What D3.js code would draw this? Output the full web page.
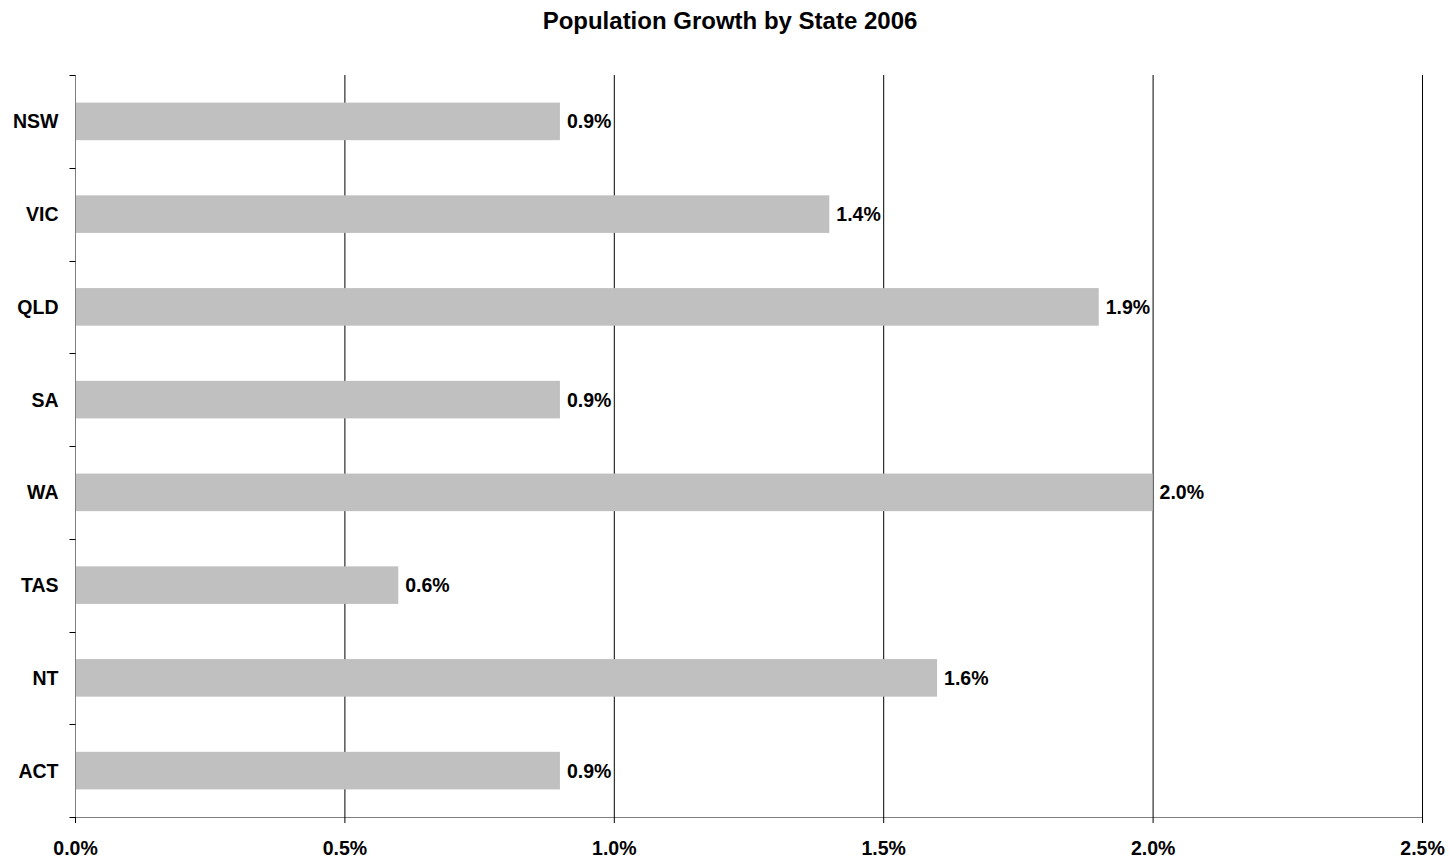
<!DOCTYPE html>
<html>
<head>
<meta charset="utf-8">
<script src="https://cdn.jsdelivr.net/npm/d3@7"></script>
<style>
    body { margin: 0; background: #fff; }
    svg text { font-family: "Liberation Sans", Arial, sans-serif; font-weight: bold; fill: #000; }
</style>
</head>
<body>
<div id="chart"></div>
<script>
// chart data
let states = ["NSW", "VIC", "QLD", "SA", "WA", "TAS", "NT", "ACT"];
let growth = [0.009, 0.014, 0.019, 0.009, 0.020, 0.006, 0.016, 0.009];
let xTicks = [0, 0.005, 0.010, 0.015, 0.020, 0.025];

let W = 1450, H = 862;
let margin = {top: 75, right: 28, bottom: 45, left: 75};
let width = W - margin.left - margin.right;
let height = H - margin.top - margin.bottom;
let labelSize = "19.5px";

let svg = d3.select("#chart").append("svg")
    .attr("width", W)
    .attr("height", H);

let g = svg.append("g")
    .attr("transform", `translate(${margin.left},${margin.top})`);

let x = d3.scaleLinear().domain([0, 0.025]).range([0, width]);
let y = d3.scaleBand().domain(states).range([0, height]).paddingInner(0.595).paddingOuter(0.2975);
let yBand = d3.scaleBand().domain(states).range([0, height]);

let fmt = d3.format(".1%");

// vertical gridlines
g.selectAll(".grid")
    .data(xTicks.slice(1))
    .enter()
    .append("line")
    .attr("x1", d => x(d) + 0.5)
    .attr("x2", d => x(d) + 0.5)
    .attr("y1", 0)
    .attr("y2", height)
    .attr("stroke", "#000")
    .attr("stroke-width", 1);

// bars
g.selectAll(".bar")
    .data(states)
    .enter()
    .append("rect")
    .attr("x", 0)
    .attr("y", d => y(d))
    .attr("width", (d, i) => x(growth[i]))
    .attr("height", y.bandwidth())
    .attr("fill", "#c0c0c0");

// value labels
g.selectAll(".val")
    .data(states)
    .enter()
    .append("text")
    .attr("x", (d, i) => x(growth[i]) + 7)
    .attr("y", d => y(d) + y.bandwidth() / 2)
    .attr("dy", "0.36em")
    .style("font-size", labelSize)
    .text((d, i) => fmt(growth[i]));

// y axis
let yAxis = g.append("g")
    .attr("transform", "translate(0.5,0)");
yAxis.append("line")
    .attr("y1", 0).attr("y2", height)
    .attr("stroke", "#808080");
yAxis.selectAll(".yt")
    .data(states.concat(["_end"]))
    .enter()
    .append("line")
    .attr("x1", -6).attr("x2", 0)
    .attr("y1", (d, i) => Math.round(i * yBand.step()) + 0.5)
    .attr("y2", (d, i) => Math.round(i * yBand.step()) + 0.5)
    .attr("stroke", "#000");
yAxis.selectAll(".ylab")
    .data(states)
    .enter()
    .append("text")
    .attr("x", -17)
    .attr("y", d => y(d) + y.bandwidth() / 2)
    .attr("dy", "0.36em")
    .attr("text-anchor", "end")
    .style("font-size", labelSize)
    .text(d => d);

// x axis
let xAxis = g.append("g")
    .attr("transform", `translate(0,${height})`)
    .call(d3.axisBottom(x).tickValues(xTicks).tickFormat(fmt).tickSize(6));
xAxis.select(".domain").attr("stroke", "#808080").attr("d", `M0.5,0.5H${width + 0.5}`);
xAxis.selectAll(".tick line").attr("stroke", "#000");
xAxis.selectAll(".tick text")
    .attr("y", 38)
    .attr("dy", 0)
    .style("font-size", labelSize)
    .style("font-family", "Liberation Sans, Arial, sans-serif");

// title
svg.append("text")
    .attr("x", W / 2 + 5)
    .attr("y", 29)
    .attr("text-anchor", "middle")
    .style("font-size", "24px")
    .text("Population Growth by State 2006");
</script>
</body>
</html>
